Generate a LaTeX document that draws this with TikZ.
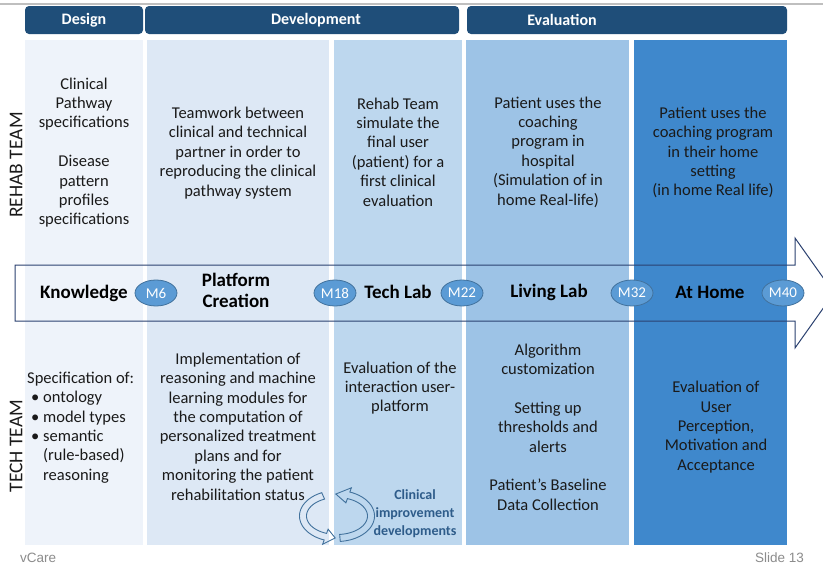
\documentclass[tikz,border=0pt]{standalone}
\usepackage{fontspec}
\setmainfont{Carlito}
\newfontfamily\footfont{Liberation Sans}
\usetikzlibrary{shapes.geometric,calc}
\definecolor{hdr}{HTML}{1F4E79}
\definecolor{cA}{HTML}{EEF3FA}
\definecolor{cB}{HTML}{DDE8F5}
\definecolor{cC}{HTML}{BDD7EE}
\definecolor{cD}{HTML}{9DC3E6}
\definecolor{cE}{HTML}{3F88CC}
\definecolor{msfill}{HTML}{5B9BD5}
\definecolor{msline}{HTML}{41719C}
\definecolor{arrline}{HTML}{2B4170}
\definecolor{clin}{HTML}{2E5C8A}
\definecolor{txtc}{HTML}{1A1A1A}
\begin{document}
\begin{tikzpicture}[x=1pt,y=-1pt,
  hdrbox/.style={fill=hdr,rounded corners=4pt},
  hdrtxt/.style={text=white,font=\fontsize{16}{18}\selectfont\bfseries,inner sep=0},
  txt/.style={align=center,text=txtc,inner sep=0,font=\fontsize{16.5}{19.4}\selectfont},
  stage/.style={align=center,text=black,inner sep=0,font=\fontsize{19}{21}\selectfont\bfseries},
  mstone/.style={ellipse,fill=msfill,draw=msline,line width=0.8pt,minimum width=42pt,minimum height=26pt,inner sep=0,text=white,font=\fontsize{15}{17}\selectfont},
  rowlbl/.style={rotate=90,inner sep=0,text=txtc,font=\fontsize{19.5}{22}\selectfont},
  bigarrow/.style={draw=arrline,line width=1pt,line join=miter},
  cycarrow/.style={draw=msline,line width=0.9pt,line join=miter},
  foot/.style={text=black!45,inner sep=0,font=\footfont\fontsize{13.5}{15}\selectfont}]
\useasboundingbox (0,0) rectangle (823,570);
\fill[white] (0,0) rectangle (823,570);
% top rule
\draw[black!25,line width=2pt] (0,3.5) -- (823,3.5);
% headers
\fill[hdrbox] (25,6) rectangle (143,34);
\fill[hdrbox] (145,6) rectangle (459,34);
\fill[hdrbox] (467,6) rectangle (787,34);
\node[hdrtxt] (hdesign) at (84,20) {Design};
\node[hdrtxt] (hdev) at (316,20) {Development};
\node[hdrtxt] (heval) at (562,20) {Evaluation};
% columns
\fill[cA] (25,40) rectangle (143,545);
\fill[cB] (147,40) rectangle (329,545);
\fill[cC] (334,40) rectangle (462,545);
\fill[cD] (466,40) rectangle (629,545);
\fill[cE] (634,40) rectangle (787,545);
% big arrow
\draw[bigarrow] (15,265) -- (795,265) -- (795,238) -- (834,293) -- (795,348) -- (795,321) -- (15,321) -- cycle;
% row labels
\node[rowlbl] (rehab) at (16,165) {REHAB TEAM};
\node[rowlbl] (tech) at (16,446) {TECH TEAM};
% top texts
\node[txt] (t1) at (84,152.5) {Clinical\\Pathway\\specifications\\~\\Disease\\pattern\\profiles\\specifications};
\node[txt] (t2) at (238,153) {Teamwork between\\clinical and technical\\partner in order to\\reproducing the clinical\\pathway system};
\node[txt] (t3) at (398,152) {Rehab Team\\simulate the\\final user\\(patient) for a\\first clinical\\evaluation};
\node[txt] (t4) at (548,152) {Patient uses the\\coaching\\program in\\hospital\\(Simulation of in\\home Real-life)};
\node[txt] (t5) at (713,152.5) {Patient uses the\\coaching program\\in their home\\setting\\(in home Real life)};
% stages
\node[stage] (s1) at (84,293) {Knowledge};
\node[stage] (s2) at (236,290) {Platform\\Creation};
\node[stage] (s3) at (398,292) {Tech Lab};
\node[stage] (s4) at (549,292) {Living Lab};
\node[stage] (s5) at (710,292) {At Home};
% milestones
\node[mstone] (m6) at (156,293) {M6};
\node[mstone] (m18) at (335,293) {M18};
\node[mstone] (m22) at (462,293) {M22};
\node[mstone] (m32) at (632,293) {M32};
\node[mstone] (m40) at (783,293) {M40};
% bottom texts
\node[txt,align=left,anchor=west] (b1) at (27,427.5) {Specification of:\\
\hspace*{4pt}\makebox[12pt][l]{•}ontology\\
\hspace*{4pt}\makebox[12pt][l]{•}model types\\
\hspace*{4pt}\makebox[12pt][l]{•}semantic\\
\hspace*{16pt}(rule-based)\\
\hspace*{16pt}reasoning};
\node[txt] (b2) at (238,426.5) {Implementation of\\reasoning and machine\\learning modules for\\the computation of\\personalized treatment\\plans and for\\monitoring the patient\\rehabilitation status};
\node[txt] (b3) at (400,388) {Evaluation of the\\interaction user-\\platform};
\node[align=center,inner sep=0,text=clin,font=\fontsize{14}{18}\selectfont\bfseries] (clinimp) at (415,514) {Clinical\\improvement\\developments};
\node[txt] (b4) at (548,427) {Algorithm\\customization\\~\\Setting up\\thresholds and\\alerts\\~\\Patient’s Baseline\\Data Collection};
\node[txt] (b5) at (716,427) {Evaluation of\\User\\Perception,\\Motivation and\\Acceptance};
% circular arrows
\def\cx{337}\def\cy{516}
\draw[cycarrow] plot[domain=246:110,samples=40] ({\cx+37.5*cos(\x)},{\cy+25.5*sin(\x)})
  -- ({\cx+42*cos(110)},{\cy+30*sin(110)})
  -- ({\cx+34*cos(93)},{\cy+22*sin(93)})
  -- ({\cx+26*cos(110)},{\cy+14*sin(110)})
  -- plot[domain=110:246,samples=40] ({\cx+30.5*cos(\x)},{\cy+18.5*sin(\x)}) -- cycle;
\draw[cycarrow] plot[domain=85:-70,samples=40] ({\cx+37.5*cos(\x)},{\cy+25.5*sin(\x)})
  -- ({\cx+42*cos(-70)},{\cy+30*sin(-70)})
  -- ({\cx+34*cos(-92)},{\cy+22*sin(-92)})
  -- ({\cx+26*cos(-70)},{\cy+14*sin(-70)})
  -- plot[domain=-70:85,samples=40] ({\cx+30.5*cos(\x)},{\cy+18.5*sin(\x)}) -- cycle;
% footer
\node[foot,anchor=west] (vcare) at (20,558) {vCare};
\node[foot,anchor=east] (slide) at (804,558) {Slide 13};
\end{tikzpicture}
\end{document}
